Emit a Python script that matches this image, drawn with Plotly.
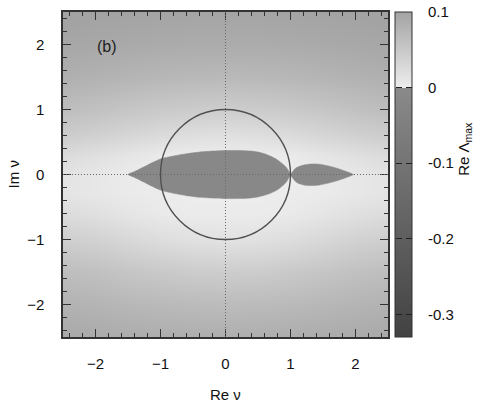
import plotly.graph_objects as go

# ---------------- data ----------------
# background field Re(Lambda_max) on a coarse grid (bilinear smoothing by plotly)
grid_x = [-2.5, -2.0, -1.5, -1.0, -0.5, 0.0, 0.5, 1.0, 1.5, 2.0, 2.5]
grid_y = [-2.5, -2.0, -1.5, -1.0, -0.6, -0.3, 0.0, 0.3, 0.6, 1.0, 1.5, 2.0, 2.5]
grid_z = [
    [0.092, 0.090, 0.088, 0.086, 0.085, 0.085, 0.085, 0.086, 0.088, 0.090, 0.092],  # y=-2.5
    [0.080, 0.077, 0.073, 0.070, 0.068, 0.067, 0.068, 0.070, 0.073, 0.077, 0.080],  # y=-2.0
    [0.064, 0.060, 0.054, 0.049, 0.045, 0.044, 0.045, 0.049, 0.054, 0.060, 0.064],  # y=-1.5
    [0.042, 0.037, 0.029, 0.022, 0.017, 0.015, 0.017, 0.022, 0.029, 0.037, 0.042],  # y=-1.0
    [0.024, 0.018, 0.011, 0.005, 0.003, 0.003, 0.003, 0.005, 0.011, 0.018, 0.024],  # y=-0.6
    [0.012, 0.008, 0.004, 0.002, 0.001, 0.001, 0.001, 0.002, 0.004, 0.008, 0.012],  # y=-0.3
    [0.013, 0.008, 0.003, 0.002, 0.001, 0.001, 0.001, 0.001, 0.003, 0.008, 0.013],  # y= 0.0
    [0.025, 0.018, 0.011, 0.004, 0.002, 0.002, 0.002, 0.004, 0.011, 0.018, 0.025],  # y= 0.3
    [0.044, 0.038, 0.031, 0.024, 0.019, 0.017, 0.019, 0.024, 0.031, 0.038, 0.044],  # y= 0.6
    [0.064, 0.059, 0.053, 0.048, 0.045, 0.043, 0.045, 0.048, 0.053, 0.059, 0.064],  # y= 1.0
    [0.083, 0.080, 0.076, 0.073, 0.071, 0.070, 0.071, 0.073, 0.076, 0.080, 0.083],  # y= 1.5
    [0.095, 0.093, 0.091, 0.089, 0.088, 0.088, 0.088, 0.089, 0.091, 0.093, 0.095],  # y= 2.0
    [0.103, 0.101, 0.100, 0.099, 0.098, 0.098, 0.098, 0.099, 0.100, 0.101, 0.103],  # y= 2.5
]

# stable lobes (Re Lambda_max slightly negative)
lobe_value = -0.01
big_lobe_x = [-1.5, -1.4, -1.3, -1.2, -1.1, -1.0, -0.8, -0.6, -0.4, -0.2, 0.0, 0.2, 0.4, 0.5, 0.6, 0.7, 0.8, 0.9, 0.95, 1.0]
big_lobe_top = [0.0, 0.045, 0.095, 0.145, 0.195, 0.24, 0.285, 0.32, 0.345, 0.36, 0.368, 0.37, 0.36, 0.345, 0.32, 0.28, 0.225, 0.145, 0.09, 0.0]
big_lobe_bot = [0.0, -0.045, -0.095, -0.145, -0.195, -0.24, -0.29, -0.325, -0.35, -0.362, -0.37, -0.37, -0.36, -0.345, -0.32, -0.285, -0.235, -0.155, -0.095, 0.0]

small_lobe_x = [1.0, 1.03, 1.06, 1.1, 1.2, 1.3, 1.36, 1.45, 1.55, 1.65, 1.75, 1.85, 1.93, 1.97]
small_lobe_top = [0.0, 0.04, 0.08, 0.11, 0.145, 0.16, 0.163, 0.158, 0.14, 0.115, 0.085, 0.05, 0.02, 0.0]
small_lobe_bot = [0.0, -0.05, -0.09, -0.125, -0.16, -0.17, -0.168, -0.16, -0.14, -0.115, -0.085, -0.05, -0.02, 0.0]

unit_circle_radius = 1.0

axis_ticks = [-2, -1, 0, 1, 2]
cbar_ticks = [-0.3, -0.2, -0.1, 0.0, 0.0999]
cbar_ticktext = ["-0.3", "-0.2", "-0.1", "0", "0.1"]
z_min, z_max = -0.33, 0.1

# ---------------- styling ----------------
FONT = "Liberation Sans, Arial, Helvetica, sans-serif"
zero_pos = (0 - z_min) / (z_max - z_min)
neg_low, neg_high = 66, 138
pos_low, pos_high = 237, 163
colorscale = [
    [0.0, f"rgb({neg_low},{neg_low},{neg_low})"],
    [zero_pos, f"rgb({neg_high},{neg_high},{neg_high})"],
    [zero_pos, f"rgb({pos_low},{pos_low},{pos_low})"],
    [1.0, f"rgb({pos_high},{pos_high},{pos_high})"],
]
clear_scale = [[0.0, "rgba(0,0,0,0)"], [1.0, "rgba(0,0,0,0)"]]


def value_to_gray(v):
    if v < 0:
        t = (v - z_min) / (0 - z_min)
        g = neg_low + t * (neg_high - neg_low)
    else:
        t = v / z_max
        g = pos_low + t * (pos_high - pos_low)
    g = int(round(g))
    return f"rgb({g},{g},{g})"


lobe_color = value_to_gray(lobe_value)

PLOT_W = 325
CB_X = 1.0215
CB_THICK = 17

fig = go.Figure()

fig.add_trace(go.Heatmap(
    x=grid_x, y=grid_y, z=grid_z,
    zmin=z_min, zmax=z_max, zsmooth="best",
    colorscale=colorscale,
    hoverinfo="skip",
    colorbar=dict(
        thickness=CB_THICK, thicknessmode="pixels",
        len=1, lenmode="fraction",
        x=CB_X, xanchor="left", xpad=0,
        y=0.5, yanchor="middle", ypad=0,
        outlinewidth=1, outlinecolor="#333333",
        ticks="outside", ticklen=13, tickwidth=1, tickcolor="rgba(0,0,0,0)",
        tickvals=cbar_ticks, ticktext=cbar_ticktext,
        tickfont=dict(family=FONT, size=15, color="#111111"),
    ),
))

for lx, ltop, lbot in [(big_lobe_x, big_lobe_top, big_lobe_bot),
                       (small_lobe_x, small_lobe_top, small_lobe_bot)]:
    xs = list(lx) + list(reversed(lx))
    ys = list(ltop) + list(reversed(lbot))
    fig.add_trace(go.Scatter(
        x=xs, y=ys, mode="lines", fill="toself",
        fillcolor=lobe_color, line=dict(color=lobe_color, width=0.5, shape="spline", smoothing=0.6),
        hoverinfo="skip", showlegend=False,
    ))

# two transparent, 1-px colour bars laid over the edges of the real one: they only
# contribute the short dark tick dashes seen inside the bar (left and right edge).
# Their host trace is a single invisible marker on the heatmap's corner grid node.
for bar_x, tick_side in [(CB_X, "outside"), (CB_X + (CB_THICK - 1) / PLOT_W, "inside")]:
    fig.add_trace(go.Scatter(
        x=grid_x[:1], y=grid_y[:1], mode="markers", hoverinfo="skip", showlegend=False,
        marker=dict(
            size=1, opacity=0,
            color=[z_min], cmin=z_min, cmax=z_max, colorscale=clear_scale, showscale=True,
            colorbar=dict(
                thickness=1, thicknessmode="pixels", len=1, lenmode="fraction",
                x=bar_x, xanchor="left", xpad=0, y=0.5, yanchor="middle", ypad=0,
                outlinewidth=0, ticks=tick_side, ticklen=6, tickwidth=1.3,
                tickcolor="#222222", tickvals=cbar_ticks[:-1], showticklabels=False,
            ),
        ),
    ))

r = unit_circle_radius
dot_style = dict(color="rgb(105,105,105)", width=1, dash="1px,2px")
shapes = [
    dict(type="circle", xref="x", yref="y", x0=-r, y0=-r, x1=r, y1=r,
         line=dict(color="rgb(80,80,80)", width=1.4), layer="above"),
    dict(type="line", xref="x", yref="paper", x0=0, x1=0, y0=0, y1=1,
         line=dot_style, layer="above"),
    dict(type="line", xref="paper", yref="y", x0=0, x1=1, y0=0, y1=0,
         line=dot_style, layer="above"),
]

annotations = [
    dict(text="(b)", xref="x", yref="y", x=-1.82, y=1.97, showarrow=False,
         font=dict(family=FONT, size=16, color="#222222")),
    dict(text="Re ν", xref="paper", yref="paper", x=0.5015, y=-0.178,
         xanchor="center", yanchor="middle", showarrow=False,
         font=dict(family=FONT, size=15, color="#111111")),
    dict(text="Im ν", xref="paper", yref="paper", x=-0.151, y=0.5,
         xanchor="center", yanchor="middle", textangle=-90, showarrow=False,
         font=dict(family=FONT, size=15, color="#111111")),
    dict(text="Re Λ<sub>max</sub>", xref="paper", yref="paper", x=1.237, y=0.579,
         xanchor="center", yanchor="middle", textangle=-90, showarrow=False,
         font=dict(family=FONT, size=15, color="#111111")),
]

axis_common = dict(
    range=[-2.5, 2.5], tickvals=axis_ticks, ticks="inside", ticklen=8, tickwidth=1.3,
    tickcolor="#333333", showline=True, linewidth=1.5, linecolor="#333333",
    mirror="ticks", showgrid=False, zeroline=False,
    minor=dict(dtick=0.2, ticks="inside", ticklen=4, tickwidth=1.1, tickcolor="#333333", showgrid=False),
    tickfont=dict(family=FONT, size=15, color="#111111"),
)

fig.update_layout(
    width=491, height=408,
    margin=dict(l=63, r=103, t=10, b=71),
    paper_bgcolor="white", plot_bgcolor="white",
    xaxis=dict(**axis_common, ticklabelstandoff=12),
    yaxis=dict(**axis_common, ticklabelstandoff=14),
    shapes=shapes,
    annotations=annotations,
    showlegend=False,
)

fig.write_html(
    "out.html",
    config={"displayModeBar": False},
    post_script="document.body.style.margin='0';document.body.style.overflow='hidden';",
)
